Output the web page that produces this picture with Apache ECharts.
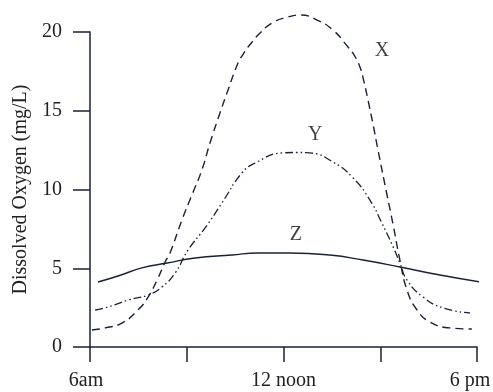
<!DOCTYPE html>
<html>
<head>
<meta charset="utf-8">
<script src="https://cdn.jsdelivr.net/npm/echarts@6/dist/echarts.min.js"></script>
<style>html,body{margin:0;padding:0;background:#fff}#c{width:493px;height:392px}</style>
</head>
<body>
<div id="c"></div>
<script>
// hours (6 = 6am, 18 = 6pm) and dissolved oxygen (mg/L)
const xHours = [6.06, 6.47, 6.99, 7.49, 7.80, 8.08, 8.33, 8.48, 8.85, 9.16, 9.47, 9.72, 10.03, 10.28, 10.59, 10.75, 10.90, 11.06, 11.21, 11.64, 12.14, 12.51, 13.04, 13.53, 14.00, 14.20, 14.37, 14.50, 14.62, 14.78, 14.93, 15.21, 15.40, 15.61, 15.83, 16.14, 16.54, 17.16, 17.84];
const xValues = [1.08, 1.21, 1.52, 2.35, 3.17, 4.25, 5.40, 5.97, 8.06, 9.65, 11.24, 12.95, 14.86, 16.32, 18.03, 18.60, 19.05, 19.45, 19.81, 20.57, 20.95, 21.08, 20.76, 20.13, 19.05, 18.50, 17.78, 16.80, 15.68, 14.10, 12.51, 9.65, 7.75, 5.52, 3.62, 2.35, 1.59, 1.21, 1.14];

const yHours = [6.16, 6.56, 7.18, 7.80, 8.23, 8.64, 9.04, 9.57, 10.09, 10.71, 11.12, 11.95, 12.42, 12.82, 13.53, 14.16, 14.68, 15.05, 15.40, 15.61, 15.83, 16.33, 16.95, 17.78];
const yValues = [2.35, 2.54, 2.98, 3.30, 3.81, 4.70, 6.16, 7.56, 9.14, 11.05, 11.68, 12.32, 12.35, 12.32, 11.75, 10.73, 9.33, 7.87, 6.35, 5.33, 4.25, 3.17, 2.48, 2.16];

const zHours = [6.25, 6.87, 7.61, 8.39, 9.26, 10.40, 11.21, 12.20, 13.44, 14.47, 15.61, 16.85, 18.31];
const zValues = [4.13, 4.51, 5.02, 5.33, 5.65, 5.84, 5.97, 5.97, 5.84, 5.52, 5.08, 4.57, 4.06];

const tickLabels = {6: '6am', 12: '12 noon', 18: '6 pm'};
const seriesNames = ['X', 'Y', 'Z'];
const labelHours = [15.05, 12.98, 12.38];
const labelValues = [18.8, 13.46, 7.11];

const ink = '#1b2236';
const font = 'Liberation Serif';

function pairs(xs, ys) { return xs.map((x, i) => [x, ys[i]]); }

const chart = echarts.init(document.getElementById('c'), null, {renderer: 'canvas'});
chart.setOption({
  backgroundColor: '#fff',
  animation: false,
  grid: { left: 90, right: 16, top: 32, bottom: 45, containLabel: false, outerBoundsMode: 'none' },
  xAxis: {
    type: 'value', min: 6, max: 18, interval: 3,
    axisLine: { show: true, lineStyle: { color: ink, width: 1.5 } },
    axisTick: { show: true, length: 15, lineStyle: { color: ink, width: 1.5 } },
    splitLine: { show: false },
    axisLabel: {
      margin: 24, color: '#222', fontFamily: font, fontSize: 20, hideOverlap: false,
      formatter: v => v === 18 ? '{r|' + tickLabels[v] + '}' : (v === 6 ? '{l|' + tickLabels[v] + '}' : (tickLabels[v] || '')),
      rich: {
        r: { fontFamily: font, fontSize: 20, color: '#222', padding: [0, 14, 0, 0] },
        l: { fontFamily: font, fontSize: 20, color: '#222', padding: [0, 8, 0, 0] }
      }
    }
  },
  yAxis: {
    type: 'value', min: 0, max: 20, interval: 5,
    name: 'Dissolved Oxygen (mg/L)', nameLocation: 'middle', nameGap: 58,
    nameTextStyle: { color: '#222', fontFamily: font, fontSize: 20 },
    axisLine: { show: true, lineStyle: { color: ink, width: 1.5 } },
    axisTick: { show: true, length: 17, lineStyle: { color: ink, width: 1.5 } },
    splitLine: { show: false },
    axisLabel: { margin: 28, color: '#222', fontFamily: font, fontSize: 20 }
  },
  series: [
    {
      name: 'X', type: 'line', data: pairs(xHours, xValues), smooth: 0.5, showSymbol: false, clip: false,
      lineStyle: { color: ink, width: 1.4, type: [8, 5] }
    },
    {
      name: 'Y', type: 'line', data: pairs(yHours, yValues), smooth: 0.5, showSymbol: false, clip: false,
      lineStyle: { color: ink, width: 1.3, type: [8, 3, 1.5, 3, 1.5, 3] }
    },
    {
      name: 'Z', type: 'line', data: pairs(zHours, zValues), smooth: 0.5, showSymbol: false, clip: false,
      lineStyle: { color: ink, width: 1.4 }
    },
    {
      name: 'labels', type: 'scatter', silent: true, clip: false,
      symbol: 'circle', symbolSize: 0, itemStyle: { color: ink },
      data: seriesNames.map((n, i) => ({ name: n, value: [labelHours[i], labelValues[i]] })),
      label: { show: true, position: 'inside', formatter: p => p.name, color: '#111', fontFamily: font, fontSize: 20 },
      labelLayout: { hideOverlap: false }
    }
  ]
});
</script>
</body>
</html>
